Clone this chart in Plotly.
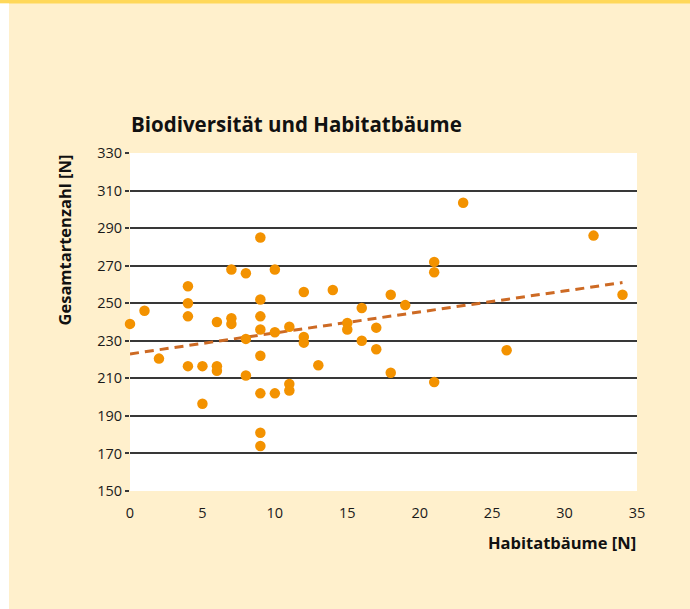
import plotly.graph_objects as go

# --- data ---
habitat_trees = [0, 1, 2, 4, 4, 4, 4, 5, 5, 6, 6, 6, 7, 7, 7, 8, 8, 8,
                 9, 9, 9, 9, 9, 9, 9, 9, 10, 10, 10, 11, 11, 11, 12, 12, 12,
                 13, 14, 15, 15, 16, 16, 17, 17, 18, 18, 19, 21, 21, 21, 23,
                 26, 32, 34]
species_total = [239, 246, 220.5, 259, 250, 243, 216.5, 216.5, 196.5, 240,
                 216.5, 214, 268, 242, 239, 266, 231, 211.5,
                 285, 252, 243, 236, 222, 202, 181, 174, 268, 234.5, 202,
                 237.5, 207, 203.5, 256, 232, 229,
                 217, 257, 239.5, 236, 247.5, 230, 237, 225.5, 254.5, 213,
                 249, 272, 266.5, 208, 303.5, 225, 286, 254.5]
trend_x = [0, 34]
trend_y = [223, 261]
x_ticks = [0, 5, 10, 15, 20, 25, 30, 35]
y_ticks = [150, 170, 190, 210, 230, 250, 270, 290, 310, 330]

title_text = "Biodiversität und Habitatbäume"
x_title = "Habitatbäume [N]"
y_title = "Gesamtartenzahl [N]"

FONT = "Open Sans"
BEIGE = "#FFF0CC"
YELLOW = "#FFD85A"
ORANGE = "#F39200"
TREND = "#CD6A24"
GRID = "#383838"

W, H = 690, 609
L, R, T, B = 130, 53, 153, 118
pw, ph = W - L - R, H - T - B

def px_x(p):
    return (p - L) / pw

def px_y(p):
    return (H - B - p) / ph

fig = go.Figure()
fig.add_trace(go.Scatter(
    x=trend_x, y=trend_y, mode="lines",
    line=dict(color=TREND, width=3, dash="9px,6px"),
    hoverinfo="skip", showlegend=False, cliponaxis=False))
fig.add_trace(go.Scatter(
    x=habitat_trees, y=species_total, mode="markers",
    marker=dict(color=ORANGE, size=10.5, line=dict(width=0)),
    showlegend=False, cliponaxis=False))

fig.update_layout(
    width=W, height=H,
    margin=dict(l=L, r=R, t=T, b=B, pad=0),
    paper_bgcolor=BEIGE, plot_bgcolor="white",
    font=dict(family=FONT, color="#1a1a1a", size=14),
    showlegend=False,
    xaxis=dict(range=[0, 35], tickvals=x_ticks, showgrid=False,
               zeroline=False, showline=False, ticks="",
               ticklabelstandoff=11,
               tickfont=dict(size=14.5, family=FONT, color="#1a1a1a")),
    yaxis=dict(range=[150, 330], tickvals=y_ticks, showgrid=True,
               gridcolor=GRID, gridwidth=1.5, zeroline=False,
               showline=False, ticks="outside", ticklen=4,
               tickcolor=GRID, tickwidth=1.5,
               tickfont=dict(size=14.5, family=FONT, color="#1a1a1a")),
)

fig.add_annotation(text="<b>" + title_text + "</b>", xref="paper", yref="paper",
                   x=px_x(129), y=px_y(124), xanchor="left", yanchor="middle",
                   showarrow=False,
                   font=dict(size=20.5, family=FONT, color="#111"))
fig.add_annotation(text="<b>" + x_title + "</b>", xref="paper", yref="paper",
                   x=px_x(638), y=px_y(542), xanchor="right", yanchor="middle",
                   showarrow=False,
                   font=dict(size=16.5, family=FONT, color="#111"))
fig.add_annotation(text="<b>" + y_title + "</b>", xref="paper", yref="paper",
                   x=px_x(64), y=px_y(153), xanchor="center", yanchor="top",
                   textangle=-90, showarrow=False,
                   font=dict(size=16.5, family=FONT, color="#111"))

# top yellow band and white left strip of the page frame
fig.add_shape(type="rect", xref="paper", yref="paper",
              x0=px_x(0), x1=px_x(W), y0=px_y(3.5), y1=px_y(0),
              fillcolor=YELLOW, line=dict(width=0), layer="above")
fig.add_shape(type="rect", xref="paper", yref="paper",
              x0=px_x(0), x1=px_x(9), y0=px_y(H), y1=px_y(3.5),
              fillcolor="white", line=dict(width=0), layer="above")

fig.write_html("out.html",
               config={"displayModeBar": False},
               post_script="document.body.style.margin='0';")
